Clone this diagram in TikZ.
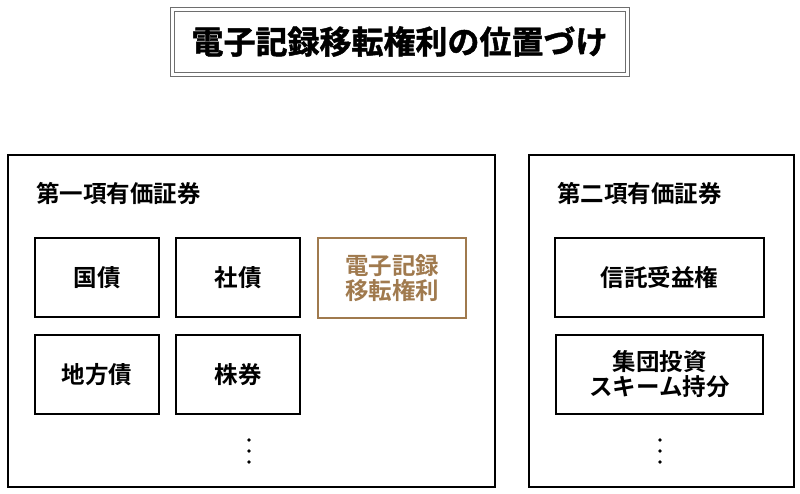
\documentclass[tikz,border=0pt]{standalone}
\usepackage{fontspec}
\setmainfont{Noto Sans CJK JP}[BoldFont={Noto Sans CJK JP Bold}]
\newfontfamily\titlefont{Noto Sans CJK JP Bold}[FakeBold=1.5]
\newfontfamily\boldjp{Noto Sans CJK JP Bold}
\definecolor{brownish}{RGB}{160,122,78}
\definecolor{framegray}{RGB}{110,110,110}
\begin{document}
\begin{tikzpicture}[x=1pt,y=-1pt,
  panel/.style={draw=black,line width=1.8pt,inner sep=0pt,anchor=north west},
  itembox/.style={draw=black,line width=1.6pt,inner sep=0pt,minimum height=79pt,
    font=\boldjp\fontsize{23.5}{25}\selectfont,align=center},
  goldbox/.style={itembox,draw=brownish,text=brownish},
  paneltitle/.style={anchor=west,inner sep=0pt,font=\boldjp\fontsize{23.5}{25}\selectfont},
  dotmark/.style={circle,fill=black,inner sep=0pt,minimum size=3.6pt}]
\useasboundingbox (0,0) rectangle (800,493);
% title
\node[draw=framegray,line width=0.9pt,minimum width=459pt,minimum height=69pt,inner sep=0pt] (titleouter) at (399.5,41.5) {};
\node[draw=framegray,line width=0.9pt,minimum width=451pt,minimum height=61pt,inner sep=0pt,
  font=\titlefont\fontsize{32}{36}\selectfont] (title) at (399.5,41.5) {電子記録移転権利の位置づけ};
% panels
\node[panel,minimum width=487pt,minimum height=332pt] (left) at (7,154) {};
\node[panel,minimum width=265pt,minimum height=332pt] (right) at (528,154) {};
\node[paneltitle] (lefttitle) at (36,193) {第一項有価証券};
\node[paneltitle] (righttitle) at (557,193) {第二項有価証券};
% left items
\node[itembox,minimum width=124pt] (kokusai) at (97,277.5) {国債};
\node[itembox,minimum width=124pt] (shasai) at (238,277.5) {社債};
\node[goldbox,minimum width=148pt,minimum height=80pt] (denshi) at (392,278) {電子記録\\移転権利};
\node[itembox,minimum width=124pt] (chiho) at (97,374.5) {地方債};
\node[itembox,minimum width=124pt] (kabu) at (238,374.5) {株券};
\node[dotmark] (ld1) at (249,440) {};
\node[dotmark] (ld2) at (249,451) {};
\node[dotmark] (ld3) at (249,462) {};
% right items
\node[itembox,minimum width=209pt] (shintaku) at (659.5,277.5) {信託受益権};
\node[itembox,minimum width=207pt] (shudan) at (659.5,374.5) {集団投資\\スキーム持分};
\node[dotmark] (rd1) at (660,440) {};
\node[dotmark] (rd2) at (660,451) {};
\node[dotmark] (rd3) at (660,462) {};
\end{tikzpicture}
\end{document}
